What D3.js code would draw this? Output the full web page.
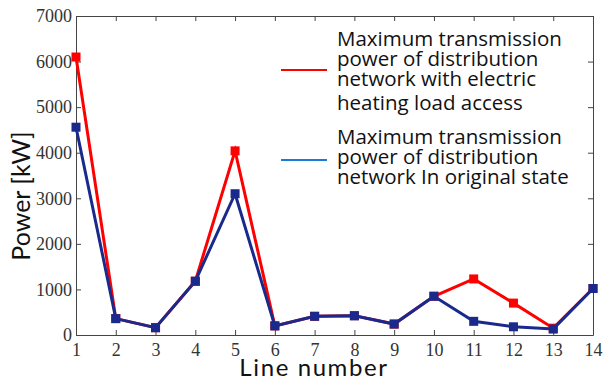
<!DOCTYPE html>
<html>
<head>
<meta charset="utf-8">
<script src="https://d3js.org/d3.v7.min.js"></script>
<style>
  html, body { margin: 0; padding: 0; background: #fff; }
  svg { display: block; }
  .tick text { font-family: 'Liberation Serif', 'Times New Roman', serif; font-size: 18px; fill: #333; }
  .domain, .tick line { stroke: #444; }
</style>
</head>
<body>
<div id="chart"></div>
<script>
// --- data ---
const lineNumbers = [1, 2, 3, 4, 5, 6, 7, 8, 9, 10, 11, 12, 13, 14];
const withHeating = [6100, 360, 160, 1180, 4040, 200, 410, 425, 240, 850, 1230, 700, 150, 1020];
const originalState = [4560, 360, 160, 1180, 3100, 200, 410, 420, 240, 850, 300, 180, 130, 1020];
const yTicks = [0, 1000, 2000, 3000, 4000, 5000, 6000, 7000];

const seriesList = [
  { name: ["Maximum transmission", "power of distribution", "network with electric", "heating load access"],
    values: withHeating, color: "#ff0000", legendColor: "#ff0000" },
  { name: ["Maximum transmission", "power of distribution", "network In original state"],
    values: originalState, color: "#1a2a8c", legendColor: "#1a7ad4" }
];

const W = 604, H = 381;
const margin = { top: 16, right: 11, bottom: 46, left: 76 };
const width = W - margin.left - margin.right;
const height = H - margin.top - margin.bottom;

const svg = d3.select("#chart").append("svg").attr("width", W).attr("height", H);
const g = svg.append("g").attr("transform", `translate(${margin.left},${margin.top})`);

const x = d3.scaleLinear().domain([1, 14]).range([0, width]);
const y = d3.scaleLinear().domain([0, 7000]).range([height, 0]);

// axes (ticks point inward, mirrored on top/right)
g.append("g").attr("transform", `translate(0,${height})`)
  .call(d3.axisBottom(x).tickValues(lineNumbers).tickFormat(d3.format("d")).tickSizeInner(-5).tickSizeOuter(0).tickPadding(8));
g.append("g")
  .call(d3.axisLeft(y).tickValues(yTicks).tickFormat(d3.format("d")).tickSizeInner(-5).tickSizeOuter(0).tickPadding(4));
g.append("g")
  .call(d3.axisTop(x).tickValues(lineNumbers).tickFormat("").tickSizeInner(-5).tickSizeOuter(0));
g.append("g").attr("transform", `translate(${width},0)`)
  .call(d3.axisRight(y).tickValues(yTicks).tickFormat("").tickSizeInner(-5).tickSizeOuter(0));

// lines + square markers
const line = d3.line().x((d, i) => x(lineNumbers[i])).y(d => y(d));
seriesList.forEach(s => {
  g.append("path").datum(s.values)
    .attr("fill", "none").attr("stroke", s.color).attr("stroke-width", 3)
    .attr("d", line);
  g.selectAll(null).data(s.values).enter().append("rect")
    .attr("x", (d, i) => x(lineNumbers[i]) - 4.5)
    .attr("y", d => y(d) - 4.5)
    .attr("width", 9).attr("height", 9)
    .attr("fill", s.color);
});

// legend
const legend = svg.append("g").attr("font-family", "'Open Sans', Lato, sans-serif").attr("font-size", 20.5).attr("fill", "#111");
const legendRows = [
  { lineY: 70, textY: [46, 66, 86, 110] },
  { lineY: 160, textY: [144, 164, 184] }
];
seriesList.forEach((s, k) => {
  const r = legendRows[k];
  legend.append("line").attr("x1", 281).attr("x2", 327).attr("y1", r.lineY).attr("y2", r.lineY)
    .attr("stroke", s.legendColor).attr("stroke-width", 2);
  s.name.forEach((t, j) => {
    legend.append("text").attr("x", 337).attr("y", r.textY[j]).text(t);
  });
});

// axis titles
svg.append("text")
  .attr("transform", "translate(30,196) rotate(-90)")
  .attr("text-anchor", "middle")
  .attr("font-family", "Lato, 'Liberation Sans', sans-serif").attr("font-size", 25).attr("fill", "#111")
  .text("Power [kW]");
svg.append("text")
  .attr("x", 314).attr("y", 376)
  .attr("text-anchor", "middle")
  .attr("letter-spacing", 1.6)
  .attr("font-family", "Lato, 'Liberation Sans', sans-serif").attr("font-size", 24).attr("fill", "#111")
  .text("Line number");
</script>
</body>
</html>
